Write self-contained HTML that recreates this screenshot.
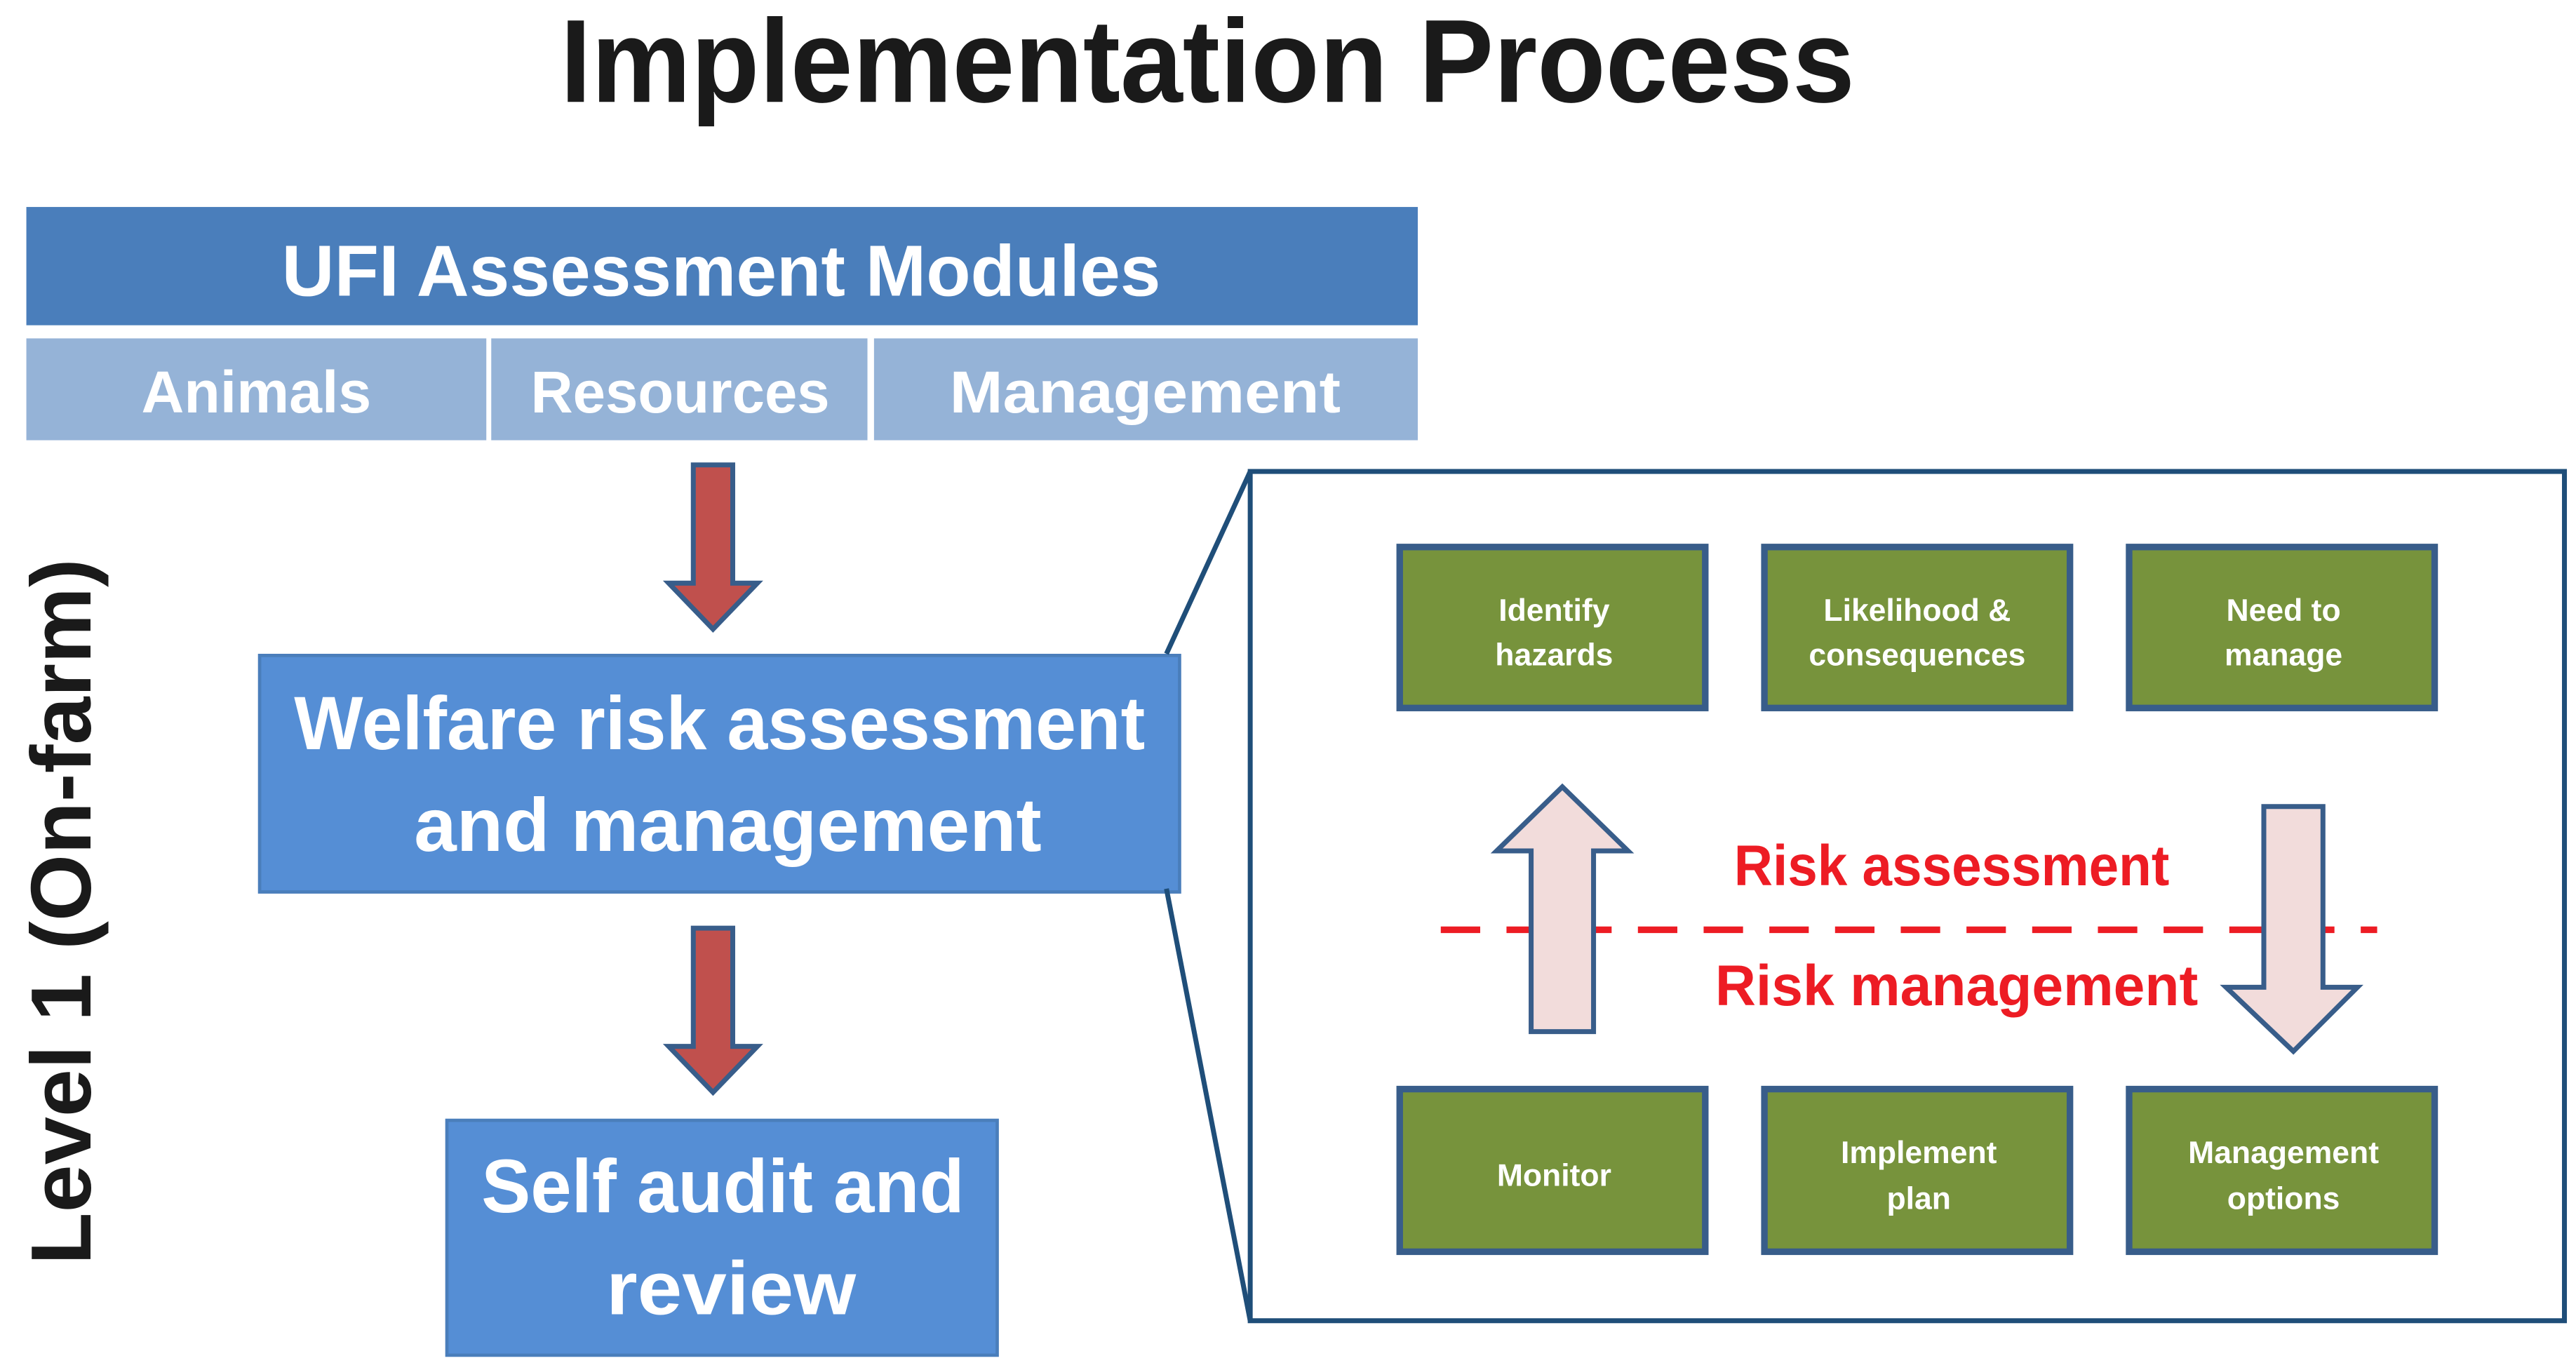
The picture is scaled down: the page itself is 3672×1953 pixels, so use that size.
<!DOCTYPE html>
<html><head><meta charset="utf-8"><style>
html,body{margin:0;padding:0;background:#fff;}
svg{display:block;}
text{font-family:"Liberation Sans",Arial,sans-serif;font-weight:bold;}
</style></head><body>
<svg width="3672" height="1953" viewBox="0 0 1568 834" xmlns="http://www.w3.org/2000/svg">
<rect width="1568" height="834" fill="#fff"/>
<text x="735" y="62" font-size="72" fill="#1a1a1a" text-anchor="middle" textLength="788" lengthAdjust="spacingAndGlyphs">Implementation Process</text>

<rect x="16" y="126" width="847" height="72" fill="#4a7ebb"/>
<text x="439" y="180" font-size="44" fill="#fff" text-anchor="middle" textLength="535" lengthAdjust="spacingAndGlyphs">UFI Assessment Modules</text>
<rect x="16" y="206" width="280" height="62" fill="#95b3d7"/>
<rect x="299" y="206" width="229" height="62" fill="#95b3d7"/>
<rect x="532" y="206" width="331" height="62" fill="#95b3d7"/>
<text x="156" y="251" font-size="36" fill="#fff" text-anchor="middle" textLength="140" lengthAdjust="spacingAndGlyphs">Animals</text>
<text x="414" y="251" font-size="36" fill="#fff" text-anchor="middle" textLength="182" lengthAdjust="spacingAndGlyphs">Resources</text>
<text x="697" y="251" font-size="36" fill="#fff" text-anchor="middle" textLength="238" lengthAdjust="spacingAndGlyphs">Management</text>

<polygon points="422,283 446,283 446,355 461,355 434,383 407,355 422,355" fill="#c0504d" stroke="#385d8a" stroke-width="3"/>
<polygon points="422,565 446,565 446,637 461,637 434,665 407,637 422,637" fill="#c0504d" stroke="#385d8a" stroke-width="3"/>

<rect x="158" y="399" width="560" height="144" fill="#558ed5" stroke="#4a7ebb" stroke-width="2"/>
<text x="438" y="456" font-size="46" fill="#fff" text-anchor="middle" textLength="518" lengthAdjust="spacingAndGlyphs">Welfare risk assessment</text>
<text x="443" y="518" font-size="46" fill="#fff" text-anchor="middle" textLength="382" lengthAdjust="spacingAndGlyphs">and management</text>

<rect x="272" y="682" width="335" height="143" fill="#558ed5" stroke="#4a7ebb" stroke-width="2"/>
<text x="440" y="738" font-size="46" fill="#fff" text-anchor="middle" textLength="294" lengthAdjust="spacingAndGlyphs">Self audit and</text>
<text x="445" y="800" font-size="46" fill="#fff" text-anchor="middle" textLength="152" lengthAdjust="spacingAndGlyphs">review</text>

<text transform="translate(55,555) rotate(-90)" x="0" y="0" font-size="52" fill="#1a1a1a" text-anchor="middle" textLength="430" lengthAdjust="spacingAndGlyphs">Level 1 (On-farm)</text>

<line x1="710" y1="398" x2="761" y2="287" stroke="#1f4e79" stroke-width="3"/>
<line x1="710" y1="541" x2="761" y2="804" stroke="#1f4e79" stroke-width="3"/>
<rect x="761" y="287" width="800" height="517" fill="#fff" stroke="#1f4e79" stroke-width="3"/>

<g fill="#77933c" stroke="#385d8a" stroke-width="4">
<rect x="852" y="333" width="186" height="98"/>
<rect x="1074" y="333" width="186" height="98"/>
<rect x="1296" y="333" width="186" height="98"/>
<rect x="852" y="663" width="186" height="99"/>
<rect x="1074" y="663" width="186" height="99"/>
<rect x="1296" y="663" width="186" height="99"/>
</g>
<g font-size="19" fill="#fff" text-anchor="middle">
<text x="946" y="378">Identify</text>
<text x="946" y="405">hazards</text>
<text x="1167" y="378">Likelihood &amp;</text>
<text x="1167" y="405">consequences</text>
<text x="1390" y="378">Need to</text>
<text x="1390" y="405">manage</text>
<text x="946" y="722">Monitor</text>
<text x="1168" y="708">Implement</text>
<text x="1168" y="736">plan</text>
<text x="1390" y="708">Management</text>
<text x="1390" y="736">options</text>
</g>

<line x1="877" y1="566" x2="1447" y2="566" stroke="#ed1c24" stroke-width="4" stroke-dasharray="24,16"/>
<polygon points="932,628 970,628 970,518 991,518 951,479 911,518 932,518" fill="#f2dcdb" stroke="#385d8a" stroke-width="3"/>
<polygon points="1378,491 1414,491 1414,601 1435,601 1396,640 1355,601 1378,601" fill="#f2dcdb" stroke="#385d8a" stroke-width="3"/>

<text x="1188" y="539" font-size="35" fill="#ed1c24" text-anchor="middle" textLength="265" lengthAdjust="spacingAndGlyphs">Risk assessment</text>
<text x="1191" y="612" font-size="35" fill="#ed1c24" text-anchor="middle" textLength="294" lengthAdjust="spacingAndGlyphs">Risk management</text>
</svg>
</body></html>
